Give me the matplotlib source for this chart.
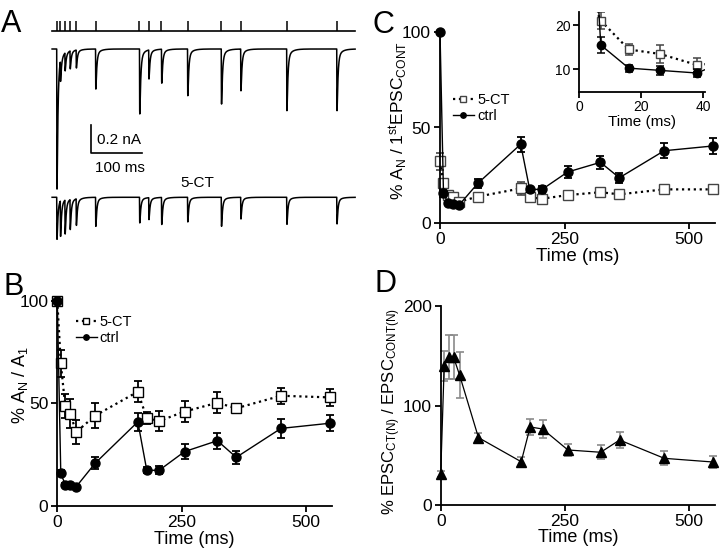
import numpy as np
import matplotlib.pyplot as plt

plt.rcParams['font.family'] = ['Liberation Sans', 'DejaVu Sans']
plt.rcParams['mathtext.default'] = 'regular'

# stimulus times of the train (ms)
times = np.array([0, 7, 16, 26, 38, 76, 162, 180, 205, 256, 322, 360, 450, 548])

# panel A: peak EPSC amplitudes of the example traces (nA)
amp_ctrl_trace = [0.99, 0.148, 0.127, 0.127, 0.127, 0.283, 0.459, 0.205, 0.240, 0.330, 0.389, 0.295, 0.436, 0.436]
amp_5ct_trace = [0.297, 0.252, 0.240, 0.212, 0.188, 0.205, 0.181, 0.155, 0.191, 0.174, 0.205, 0.153, 0.191, 0.188]

# panel B: % A_N / A_1
b_5ct = [100, 69.5, 48.7, 45, 36, 44, 55.7, 42.7, 41.4, 46, 50.3, 47.6, 53.7, 52.9]
b_5ct_err = [0, 6.5, 6, 7, 6, 6, 5, 3, 5, 5, 5, 2, 4, 4]
b_ctrl = [100, 15.9, 10.4, 10, 9.4, 20.8, 41, 17.4, 17.4, 26.5, 31.8, 23.7, 37.8, 40.3]
b_ctrl_err = [0, 1.5, 0.8, 0.8, 0.8, 3, 4.5, 1.5, 2, 3.5, 4, 3, 4.5, 4]

# panel C: % A_N / 1st EPSC control
c_ctrl = [100, 15.5, 10.3, 9.8, 9.2, 20.7, 41.2, 17.5, 17.5, 26.6, 31.7, 23.6, 37.8, 40.3]
c_ctrl_err = [0, 1.8, 0.8, 1, 1, 2.5, 4, 1.5, 1.8, 3, 3.5, 2.5, 4, 4]
c_5ct = [32.2, 21, 14.5, 13.5, 11, 13.7, 18, 13.3, 12.6, 14.5, 16, 14.9, 17.5, 17.5]
c_5ct_err = [4.5, 2, 1.2, 2, 1.5, 1.5, 3.5, 1, 1.5, 1.5, 2, 1, 2, 2]

# panel D: % EPSC_CT(N) / EPSC_CONT(N)
d_ratio = [30.8, 139.7, 149, 148.4, 130.6, 67.7, 43.5, 78.4, 76.4, 55.3, 53, 65.3, 46.9, 43.2]
d_err = [3, 15, 22, 22, 23, 5, 5, 8, 9, 6, 7, 8, 7, 6]

W, H = 720.0, 552.0
fig = plt.figure(figsize=(W/100, H/100), dpi=100, facecolor='white')

def px_axes(x0, y0, x1, y1):
    # axes from pixel box (top-left origin)
    return fig.add_axes([x0/W, (H - y1)/H, (x1 - x0)/W, (y1 - y0)/H])

def style(ax, fs=12.5):
    for s in ['top', 'right']:
        ax.spines[s].set_visible(False)
    for s in ['left', 'bottom']:
        ax.spines[s].set_linewidth(1.3)
    ax.tick_params(direction='out', length=4.5, width=1.3, labelsize=fs, pad=2)

def noclip(container):
    for a in container.get_children():
        a.set_clip_on(False)

# ---------- A: example traces ----------
ax_a = px_axes(40, 15, 360, 255)
ax_a.set_xlim((40 - 56.7)/0.511, (360 - 56.7)/0.511)
ax_a.set_ylim((49 - 255)/141.5, (49 - 15)/141.5)
ax_a.axis('off')

t = np.arange(-9, 584, 0.05)

def kernel(tt):
    tc = np.clip(tt, 0, None)
    return np.where(tt >= 0, (1 - np.exp(-tc/0.3)) * (0.9*np.exp(-tc/1.8) + 0.1*np.exp(-tc/8)), 0)

kmax = kernel(np.arange(0, 20, 0.01)).max()

def trace(amps):
    y = np.zeros_like(t)
    for ti, a in zip(times, amps):
        y -= a*kernel(t - ti)/kmax
    return y

ax_a.plot(t, trace(amp_ctrl_trace), color='k', lw=1.1)
ax_a.plot(t, trace(amp_5ct_trace) - 1.048, color='k', lw=1.1)
# stimulus marks
ax_a.plot([-9, 584], [0.127, 0.127], color='k', lw=1.2)
ax_a.vlines(times, 0.127, 0.127 + 10/141.5, color='k', lw=1.1)
# scale bar
ax_a.plot([66.5, 66.5, 166.5], [-0.537, -0.737, -0.737], color='k', lw=1.2)
ax_a.text(78, -0.643, '0.2 nA', fontsize=11, ha='left', va='center')
ax_a.text(124, -0.841, '100 ms', fontsize=11, ha='center', va='center')
ax_a.text(276, -0.947, '5-CT', fontsize=11, ha='center', va='center')

# ---------- B ----------
ax_b = px_axes(57.3, 300.7, 331.7, 506)
style(ax_b)
noclip(ax_b.errorbar(times, b_5ct, yerr=b_5ct_err, fmt='none', ecolor='k', elinewidth=1.3, capsize=3, capthick=1.3))
ax_b.plot(times, b_5ct, ':', color='k', lw=1.6, marker='s', ms=6.5, mfc='white', mec='k', mew=1.0, label='5-CT', clip_on=False)
noclip(ax_b.errorbar(times, b_ctrl, yerr=b_ctrl_err, fmt='none', ecolor='k', elinewidth=1.3, capsize=3, capthick=1.3))
ax_b.plot(times, b_ctrl, '-', color='k', lw=1.0, marker='o', ms=6.5, mfc='k', mec='k', label='ctrl', clip_on=False)
ax_b.set_xlim(0, 552)
ax_b.set_ylim(0, 100)
ax_b.set_xticks([0, 250, 500])
ax_b.set_yticks([0, 50, 100])
ax_b.set_xlabel('Time (ms)', fontsize=13, labelpad=1)
ax_b.set_ylabel('% A$_{N}$ / A$_{1}$', fontsize=13)
ax_b.yaxis.set_label_coords(-0.10, 0.59)
ax_b.legend(loc='upper left', bbox_to_anchor=(0.067, 0.93), frameon=False, handlelength=1.45,
            handletextpad=0.2, borderpad=0, borderaxespad=0, labelspacing=0.15, fontsize=10.5, markerscale=0.6)

# ---------- C ----------
ax_c = px_axes(440, 32.3, 715, 222.7)
style(ax_c)
noclip(ax_c.errorbar(times, c_5ct, yerr=c_5ct_err, fmt='none', ecolor='#444444', elinewidth=1.2, capsize=3, capthick=1.2))
ax_c.plot(times, c_5ct, ':', color='k', lw=1.6, marker='s', ms=6.5, mfc='white', mec='#444444', mew=1.0, label='5-CT', clip_on=False)
noclip(ax_c.errorbar(times, c_ctrl, yerr=c_ctrl_err, fmt='none', ecolor='k', elinewidth=1.3, capsize=3, capthick=1.3))
ax_c.plot(times, c_ctrl, '-', color='k', lw=1.0, marker='o', ms=6.5, mfc='k', mec='k', label='ctrl', clip_on=False)
ax_c.set_xlim(0, 552)
ax_c.set_ylim(0, 100)
ax_c.set_xticks([0, 250, 500])
ax_c.set_yticks([0, 50, 100])
ax_c.set_xlabel('Time (ms)', fontsize=13.5, labelpad=1)
ax_c.set_ylabel('% A$_{N}$ / 1$^{st}$EPSC$_{CONT}$', fontsize=12.5)
ax_c.yaxis.set_label_coords(-0.109, 0.535)
ax_c.legend(loc='upper left', bbox_to_anchor=(0.047, 0.681), frameon=False, handlelength=1.45,
            handletextpad=0.2, borderpad=0, borderaxespad=0, labelspacing=0.15, fontsize=10.5, markerscale=0.6)

# inset: first 40 ms
ax_in = px_axes(579, 11.7, 705, 91.7)
style(ax_in, fs=10)
ax_in.errorbar(times, c_5ct, yerr=c_5ct_err, fmt='none', ecolor='#444444', elinewidth=1.1, capsize=3, capthick=1.1)
ax_in.plot(times, c_5ct, ':', color='k', lw=1.6, marker='s', ms=6, mfc='white', mec='#444444', mew=1.0)
ax_in.errorbar(times, c_ctrl, yerr=c_ctrl_err, fmt='none', ecolor='k', elinewidth=1.1, capsize=3, capthick=1.1)
ax_in.plot(times, c_ctrl, '-', color='k', lw=1.0, marker='o', ms=6, mfc='k', mec='k')
ax_in.set_xlim(0, 40.5)
ax_in.set_ylim(5, 23)
ax_in.set_xticks([0, 20, 40])
ax_in.set_yticks([10, 20])
ax_in.tick_params(length=4)
ax_in.set_xlabel('Time (ms)', fontsize=11, labelpad=1)

# ---------- D ----------
ax_d = px_axes(440.7, 306, 715, 505)
style(ax_d)
noclip(ax_d.errorbar(times, d_ratio, yerr=d_err, fmt='none', ecolor='#8a8a8a', elinewidth=1.2, capsize=3, capthick=1.2))
ax_d.plot(times, d_ratio, '-', color='k', lw=0.9, marker='^', ms=7, mfc='k', mec='k', clip_on=False)
ax_d.set_xlim(0, 552)
ax_d.set_ylim(0, 200)
ax_d.set_xticks([0, 250, 500])
ax_d.set_yticks([0, 100, 200])
ax_d.set_xlabel('Time (ms)', fontsize=13, labelpad=0)
ax_d.set_ylabel('% EPSC$_{CT(N)}$ / EPSC$_{CONT(N)}$', fontsize=12)
ax_d.yaxis.set_label_coords(-0.137, 0.47)

# panel letters
for letter, x, y in [('A', 1, 32), ('B', 3, 295), ('C', 372, 33), ('D', 374, 292)]:
    fig.text(x/W, 1 - y/H, letter, fontsize=22, ha='left', va='baseline')

fig.savefig('out.png', dpi=100, facecolor='white')
